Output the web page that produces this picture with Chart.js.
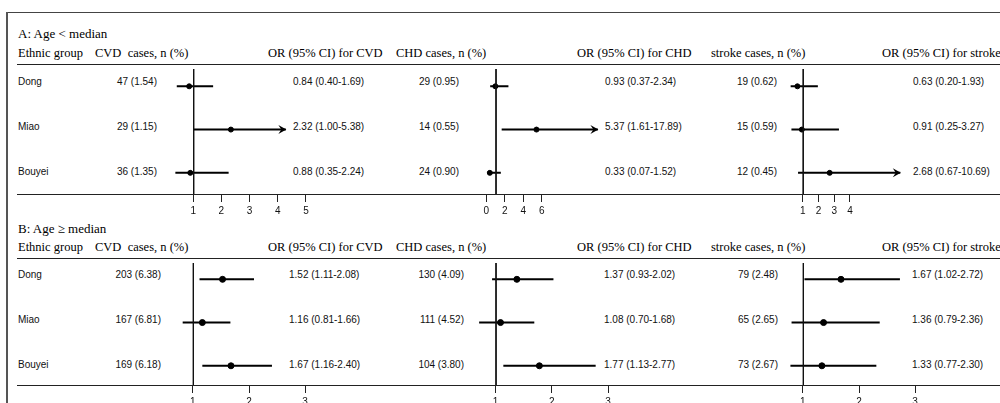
<!DOCTYPE html>
<html>
<head>
<meta charset="utf-8">
<script src="https://cdn.jsdelivr.net/npm/chart.js@4.4.1/dist/chart.umd.min.js"></script>
<style>
body { margin: 0; background: #fff; }
#page { position: relative; width: 1000px; height: 403px; overflow: hidden; background: #fff; }
.t { position: absolute; white-space: pre; line-height: 1; transform: translateY(-50%); }
.serif { font-family: "Liberation Serif", "Times New Roman", serif; font-size: 12.5px; color: #000; }
.title { font-size: 13px; }
.sans { font-family: "Liberation Sans", Arial, sans-serif; font-size: 10px; color: #111; }
.rule { position: absolute; background: #222; }
canvas { position: absolute; }
</style>
</head>
<body>
<div id="page"></div>
<script>
var groups = ['Dong', 'Miao', 'Bouyei'];

// A: Age < median
var cvdNA = [47, 29, 36];
var cvdPctA = [1.54, 1.15, 1.35];
var cvdOrA = [0.84, 2.32, 0.88];
var cvdLoA = [0.40, 1.00, 0.35];
var cvdHiA = [1.69, 5.38, 2.24];

var chdNA = [29, 14, 24];
var chdPctA = [0.95, 0.55, 0.90];
var chdOrA = [0.93, 5.37, 0.33];
var chdLoA = [0.37, 1.61, 0.07];
var chdHiA = [2.34, 17.89, 1.52];

var strokeNA = [19, 15, 12];
var strokePctA = [0.62, 0.59, 0.45];
var strokeOrA = [0.63, 0.91, 2.68];
var strokeLoA = [0.20, 0.25, 0.67];
var strokeHiA = [1.93, 3.27, 10.69];

// B: Age >= median
var cvdNB = [203, 167, 169];
var cvdPctB = [6.38, 6.81, 6.18];
var cvdOrB = [1.52, 1.16, 1.67];
var cvdLoB = [1.11, 0.81, 1.16];
var cvdHiB = [2.08, 1.66, 2.40];

var chdNB = [130, 111, 104];
var chdPctB = [4.09, 4.52, 3.80];
var chdOrB = [1.37, 1.08, 1.77];
var chdLoB = [0.93, 0.70, 1.13];
var chdHiB = [2.02, 1.68, 2.77];

var strokeNB = [79, 65, 73];
var strokePctB = [2.48, 2.65, 2.67];
var strokeOrB = [1.67, 1.36, 1.33];
var strokeLoB = [1.02, 0.79, 0.77];
var strokeHiB = [2.72, 2.36, 2.30];

var cvdTicksA = [1, 2, 3, 4, 5];
var chdTicksA = [0, 2, 4, 6];
var strokeTicksA = [1, 2, 3, 4];
var ticksB = [1, 2, 3];

// layout of the two panels (pixels), data comes from the arrays above
var panels = [
    { title: 'A: Age < median', titleY: 33, headY: 53, top: 64, bottom: 194, firstRow: 82, pitch: 45, dot: 2.5,
      plots: [
        { outcome: 'CVD', caseHead: 'CVD  cases, n (%)', n: cvdNA, pct: cvdPctA, or: cvdOrA, lo: cvdLoA, hi: cvdHiA, ticks: cvdTicksA,
          left: 160, min: 0, max: 5.5, ppu: 30, arrowAt: 4.27, casesRight: 157, orLeft: 293, caseHeadX: 95, orHeadX: 268 },
        { outcome: 'CHD', caseHead: 'CHD cases, n (%)', n: chdNA, pct: chdPctA, or: chdOrA, lo: chdLoA, hi: chdHiA, ticks: chdTicksA,
          left: 472, min: -1, max: 12.5, ppu: 10, arrowAt: 12, casesRight: 459, orLeft: 605, caseHeadX: 396, orHeadX: 577 },
        { outcome: 'stroke', caseHead: 'stroke cases, n (%)', n: strokeNA, pct: strokePctA, or: strokeOrA, lo: strokeLoA, hi: strokeHiA, ticks: strokeTicksA,
          left: 782, min: 0, max: 7.5, ppu: 17, arrowAt: 7.17, casesRight: 777, orLeft: 913, caseHeadX: 711, orHeadX: 882 }
      ] },
    { title: 'B: Age \u2265 median', titleY: 228, headY: 247, top: 258, bottom: 385, firstRow: 275, pitch: 45, dot: 3,
      plots: [
        { outcome: 'CVD', caseHead: 'CVD  cases, n (%)', n: cvdNB, pct: cvdPctB, or: cvdOrB, lo: cvdLoB, hi: cvdHiB, ticks: ticksB,
          left: 171, min: 0.7, max: 3.3, ppu: 60, arrowAt: 99, casesRight: 161, orLeft: 289, caseHeadX: 95, orHeadX: 268 },
        { outcome: 'CHD', caseHead: 'CHD cases, n (%)', n: chdNB, pct: chdPctB, or: chdOrB, lo: chdLoB, hi: chdHiB, ticks: ticksB,
          left: 468, min: 0.6, max: 3.3, ppu: 60, arrowAt: 99, casesRight: 464, orLeft: 604, caseHeadX: 396, orHeadX: 577 },
        { outcome: 'stroke', caseHead: 'stroke cases, n (%)', n: strokeNB, pct: strokePctB, or: strokeOrB, lo: strokeLoB, hi: strokeHiB, ticks: ticksB,
          left: 781, min: 0.7, max: 3.3, ppu: 60, arrowAt: 99, casesRight: 778, orLeft: 912, caseHeadX: 711, orHeadX: 882 }
      ] }
];

var page = document.getElementById('page');

function addText(text, x, y, cls, alignRight) {
    var el = document.createElement('div');
    el.className = 't ' + cls;
    el.textContent = text;
    el.style.top = y + 'px';
    if (alignRight) {
        el.style.right = (1000 - x) + 'px';
    } else {
        el.style.left = x + 'px';
    }
    page.appendChild(el);
}

function addRule(x, y, w, h, color) {
    var el = document.createElement('div');
    el.className = 'rule';
    el.style.left = x + 'px';
    el.style.top = y + 'px';
    el.style.width = w + 'px';
    el.style.height = h + 'px';
    if (color) el.style.background = color;
    page.appendChild(el);
}

// shift marks half a pixel so the 1px reference line sits on the pixel grid
var crispPlugin = {
    id: 'crisp',
    beforeDatasetsDraw(chart) { chart.ctx.save(); chart.ctx.translate(0.5, 0); },
    afterDatasetsDraw(chart) { chart.ctx.restore(); }
};

// arrow head for intervals running past the drawn range
var arrowPlugin = {
    id: 'arrows',
    afterDatasetsDraw(chart, args, opts) {
        var ctx = chart.ctx;
        var xs = chart.scales.x, ys = chart.scales.y;
        (opts.rows || []).forEach(function (i) {
            var tip = xs.getPixelForValue(opts.at) + 1;
            var y = ys.getPixelForValue(i);
            ctx.save();
            ctx.fillStyle = '#000';
            ctx.beginPath();
            ctx.moveTo(tip, y);
            ctx.lineTo(tip - 8, y - 4.5);
            ctx.lineTo(tip - 5, y);
            ctx.lineTo(tip - 8, y + 4.5);
            ctx.closePath();
            ctx.fill();
            ctx.restore();
        });
    }
};

var forestUtil = {
    instances: [],
    instantiate(canvas, config) {
        var chart = new Chart(canvas, config);
        this.instances.push(chart);
        return chart;
    },
    build(panel, plot, idx) {
        var yMin = (panel.top - panel.firstRow) / panel.pitch;
        var yMax = (panel.bottom - panel.firstRow) / panel.pitch;
        var axisH = 24;
        var canvas = document.createElement('canvas');
        canvas.id = 'plot_' + idx;
        canvas.width = Math.round((plot.max - plot.min) * plot.ppu);
        canvas.height = panel.bottom - panel.top + axisH;
        canvas.style.left = plot.left + 'px';
        canvas.style.top = panel.top + 'px';
        page.appendChild(canvas);

        var datasets = [{
            type: 'line',
            data: [{ x: 1, y: yMin }, { x: 1, y: yMax }],
            borderColor: '#111', borderWidth: 1, pointRadius: 0
        }];
        var arrowRows = [];
        groups.forEach(function (g, i) {
            var hi = plot.hi[i];
            if (hi > plot.arrowAt) {
                hi = plot.arrowAt;
                arrowRows.push(i);
            }
            datasets.push({
                type: 'line',
                data: [{ x: plot.lo[i], y: i }, { x: hi, y: i }],
                borderColor: '#000', borderWidth: 2, pointRadius: 0
            });
        });
        datasets.push({
            type: 'scatter',
            data: plot.or.map(function (v, i) { return { x: v, y: i }; }),
            backgroundColor: '#000', borderColor: '#000',
            pointRadius: panel.dot, pointStyle: 'circle'
        });

        var ticks = plot.ticks;
        return this.instantiate(canvas, {
            type: 'scatter',
            data: { datasets: datasets },
            options: {
                responsive: false,
                animation: false,
                events: [],
                devicePixelRatio: 1,
                layout: { padding: 0 },
                plugins: {
                    legend: { display: false },
                    tooltip: { enabled: false },
                    arrows: { rows: arrowRows, at: plot.arrowAt }
                },
                scales: {
                    x: {
                        type: 'linear',
                        position: 'bottom',
                        min: plot.min,
                        max: plot.max,
                        afterBuildTicks: function (s) {
                            s.ticks = ticks.map(function (v) { return { value: v }; });
                        },
                        afterFit: function (s) { s.height = axisH; },
                        border: { display: false },
                        grid: { drawOnChartArea: false, drawTicks: true, tickLength: 8, tickColor: '#222', tickWidth: 1 },
                        ticks: {
                            padding: 3, autoSkip: false, maxRotation: 0, color: '#111',
                            font: { family: 'Liberation Sans', size: 10 },
                            callback: function (v) { return String(v); }
                        }
                    },
                    y: { type: 'linear', display: false, reverse: true, min: yMin, max: yMax }
                }
            },
            plugins: [crispPlugin, arrowPlugin]
        });
    }
};

// frame
addRule(7, 12, 993, 1, '#444');
addRule(6, 12, 2, 391, '#555');

var idx = 0;
panels.forEach(function (panel) {
    addText(panel.title, 18, panel.titleY, 'serif title');
    addText('Ethnic group', 18, panel.headY, 'serif');
    addRule(17, panel.top, 983, 1);
    addRule(17, panel.bottom, 983, 1);
    groups.forEach(function (g, i) {
        addText(g, 18, panel.firstRow + i * panel.pitch, 'sans');
    });
    panel.plots.forEach(function (plot) {
        addText(plot.caseHead, plot.caseHeadX, panel.headY, 'serif');
        addText('OR (95% CI) for ' + plot.outcome, plot.orHeadX, panel.headY, 'serif');
        groups.forEach(function (g, i) {
            var y = panel.firstRow + i * panel.pitch;
            addText(plot.n[i] + ' (' + plot.pct[i].toFixed(2) + ')', plot.casesRight, y, 'sans', true);
            addText(plot.or[i].toFixed(2) + ' (' + plot.lo[i].toFixed(2) + '-' + plot.hi[i].toFixed(2) + ')', plot.orLeft, y, 'sans');
        });
        forestUtil.build(panel, plot, idx++);
    });
});
</script>
</body>
</html>
